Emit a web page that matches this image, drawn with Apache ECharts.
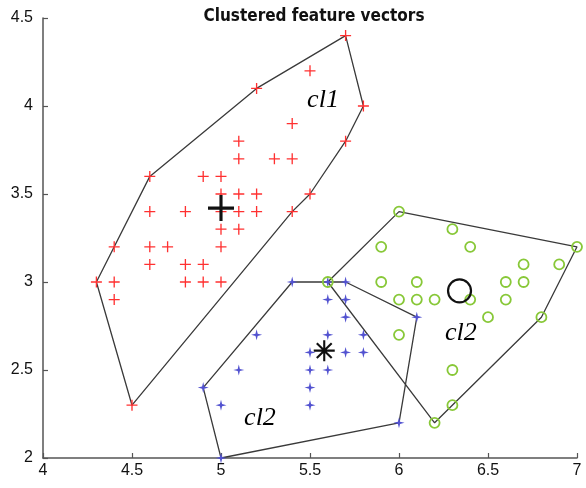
<!DOCTYPE html>
<html>
<head>
<meta charset="utf-8">
<script src="https://cdn.jsdelivr.net/npm/echarts@6/dist/echarts.min.js"></script>
<style>html,body{margin:0;padding:0;background:#fff}#c{width:586px;height:488px}</style>
</head>
<body>
<div id="c"></div>
<script>
var titleText = 'Clustered feature vectors';
var xTicks = [4, 4.5, 5, 5.5, 6, 6.5, 7];
var yTicks = [2, 2.5, 3, 3.5, 4, 4.5];

var cluster1 = [[5.7,4.4],[5.5,4.2],[5.2,4.1],[5.8,4.0],[5.4,3.9],[5.1,3.8],[5.7,3.8],[5.1,3.7],[5.3,3.7],[5.4,3.7],
  [4.6,3.6],[4.9,3.6],[5.0,3.6],[5.0,3.5],[5.1,3.5],[5.2,3.5],[5.5,3.5],[4.6,3.4],[4.8,3.4],[5.0,3.4],[5.1,3.4],[5.2,3.4],[5.4,3.4],
  [5.0,3.3],[5.1,3.3],[4.4,3.2],[4.6,3.2],[4.7,3.2],[5.0,3.2],[4.6,3.1],[4.8,3.1],[4.9,3.1],
  [4.3,3.0],[4.4,3.0],[4.8,3.0],[4.9,3.0],[5.0,3.0],[4.4,2.9],[4.5,2.3]];
var cluster2 = [[5.4,3.0],[5.6,3.0],[5.7,3.0],[5.6,2.9],[5.7,2.9],[5.7,2.8],[6.1,2.8],[5.2,2.7],[5.6,2.7],[5.8,2.7],
  [5.5,2.6],[5.7,2.6],[5.8,2.6],[5.1,2.5],[5.5,2.5],[5.6,2.5],[4.9,2.4],[5.5,2.4],[5.0,2.3],[5.5,2.3],[6.0,2.2],[5.0,2.0]];
var cluster3 = [[5.6,3.0],[6.0,3.4],[6.3,3.3],[5.9,3.2],[6.4,3.2],[7.0,3.2],[6.7,3.1],[6.9,3.1],[5.9,3.0],[6.1,3.0],[6.6,3.0],[6.7,3.0],
  [6.0,2.9],[6.1,2.9],[6.2,2.9],[6.4,2.9],[6.6,2.9],[6.5,2.8],[6.8,2.8],[6.0,2.7],[6.3,2.5],[6.3,2.3],[6.2,2.2]];

var hull1 = [[4.3,3.0],[4.6,3.6],[5.2,4.1],[5.7,4.4],[5.8,4.0],[5.7,3.8],[5.5,3.5],[5.4,3.4],[4.5,2.3],[4.3,3.0]];
var hull2 = [[5.4,3.0],[5.7,3.0],[6.1,2.8],[6.0,2.2],[5.0,2.0],[4.9,2.4],[5.4,3.0]];
var hull3 = [[5.6,3.0],[6.0,3.4],[7.0,3.2],[6.8,2.8],[6.2,2.2],[5.6,3.0]];

var centroid1 = [[5.0,3.42]];
var centroid2 = [[5.58,2.61]];
var centroid3 = [[6.34,2.95]];

var labelNames = ['cl1', 'cl2', 'cl2'];
var labelPos = [[5.573,4.034],[5.219,2.227],[6.348,2.71]];

var plusPath = 'path://M4.4,0 h1.2 v4.4 h4.4 v1.2 h-4.4 v4.4 h-1.2 v-4.4 h-4.4 v-1.2 h4.4 z';
var starPath = 'path://M5,0 L6,4 L10,5 L6,6 L5,10 L4,6 L0,5 L4,4 Z';
var asteriskPath = 'path://M4.5,0 h1 v3.8 l2.7,-2.7 l0.7,0.7 l-2.7,2.7 h3.8 v1 h-3.8 l2.7,2.7 l-0.7,0.7 l-2.7,-2.7 v3.8 h-1 v-3.8 l-2.7,2.7 l-0.7,-0.7 l2.7,-2.7 h-3.8 v-1 h3.8 l-2.7,-2.7 l0.7,-0.7 l2.7,2.7 z';

var hullStyle = {color: '#3a3a3a', width: 1.3};
function hull(d) {
  return {type: 'line', data: d, symbol: 'none', lineStyle: hullStyle, z: 2, silent: true, animation: false};
}

var chart = echarts.init(document.getElementById('c'), null, {renderer: 'canvas'});
chart.setOption({
  animation: false,
  backgroundColor: '#fff',
  title: {
    text: titleText, left: 309, top: 3, textAlign: 'center',
    textStyle: {fontFamily: 'DejaVu Sans Condensed', fontWeight: 'bold', fontSize: 17, color: '#111'}
  },
  grid: {left: 43, right: 9, top: 18, bottom: 30, containLabel: false},
  xAxis: {
    type: 'value', min: 4, max: 7, interval: 0.5,
    axisLine: {show: true, lineStyle: {color: '#555', width: 1.5}},
    axisTick: {show: true, inside: true, length: 5, lineStyle: {color: '#555', width: 1.2}},
    axisLabel: {color: '#111', fontSize: 16, fontFamily: 'Liberation Sans', margin: 5,
      formatter: function (v) { return xTicks.indexOf(v) >= 0 ? String(v) : ''; }},
    splitLine: {show: false}
  },
  yAxis: {
    type: 'value', min: 2, max: 4.5, interval: 0.5,
    axisLine: {show: true, lineStyle: {color: '#555', width: 1.5}},
    axisTick: {show: true, inside: true, length: 5, lineStyle: {color: '#555', width: 1.2}},
    axisLabel: {color: '#111', fontSize: 16, fontFamily: 'Liberation Sans', margin: 10,
      formatter: function (v) { return yTicks.indexOf(v) >= 0 ? String(v) : ''; }},
    splitLine: {show: false}
  },
  series: [
    hull(hull1), hull(hull2), hull(hull3),
    {type: 'scatter', data: cluster1, symbol: plusPath, symbolSize: 11, itemStyle: {color: '#ff3030', opacity: 1}, z: 3},
    {type: 'scatter', data: cluster2, symbol: starPath, symbolSize: 11, itemStyle: {color: '#5252d0', opacity: 1}, z: 3},
    {type: 'scatter', data: cluster3, symbol: 'circle', symbolSize: 10,
      itemStyle: {color: 'rgba(0,0,0,0)', borderColor: '#88c838', borderWidth: 1.8, opacity: 1}, z: 4},
    {type: 'scatter', data: centroid1, symbol: plusPath, symbolSize: 26, itemStyle: {color: '#111', opacity: 1}, z: 5},
    {type: 'scatter', data: centroid2, symbol: asteriskPath, symbolSize: 21, itemStyle: {color: '#111', opacity: 1}, z: 5},
    {type: 'scatter', data: centroid3, symbol: 'circle', symbolSize: 23,
      itemStyle: {color: 'rgba(0,0,0,0)', borderColor: '#111', borderWidth: 2.2, opacity: 1}, z: 5},
    {type: 'scatter', symbol: 'circle', symbolSize: 2, z: 6, silent: true,
      itemStyle: {color: 'rgba(0,0,0,0)', opacity: 1},
      data: labelPos.map(function (p, i) { return {value: p, name: labelNames[i]}; }),
      label: {show: true, position: 'inside', formatter: '{b}', color: '#000', opacity: 1,
        fontFamily: 'Liberation Serif', fontStyle: 'italic', fontSize: 26}}
  ]
});
</script>
</body>
</html>
